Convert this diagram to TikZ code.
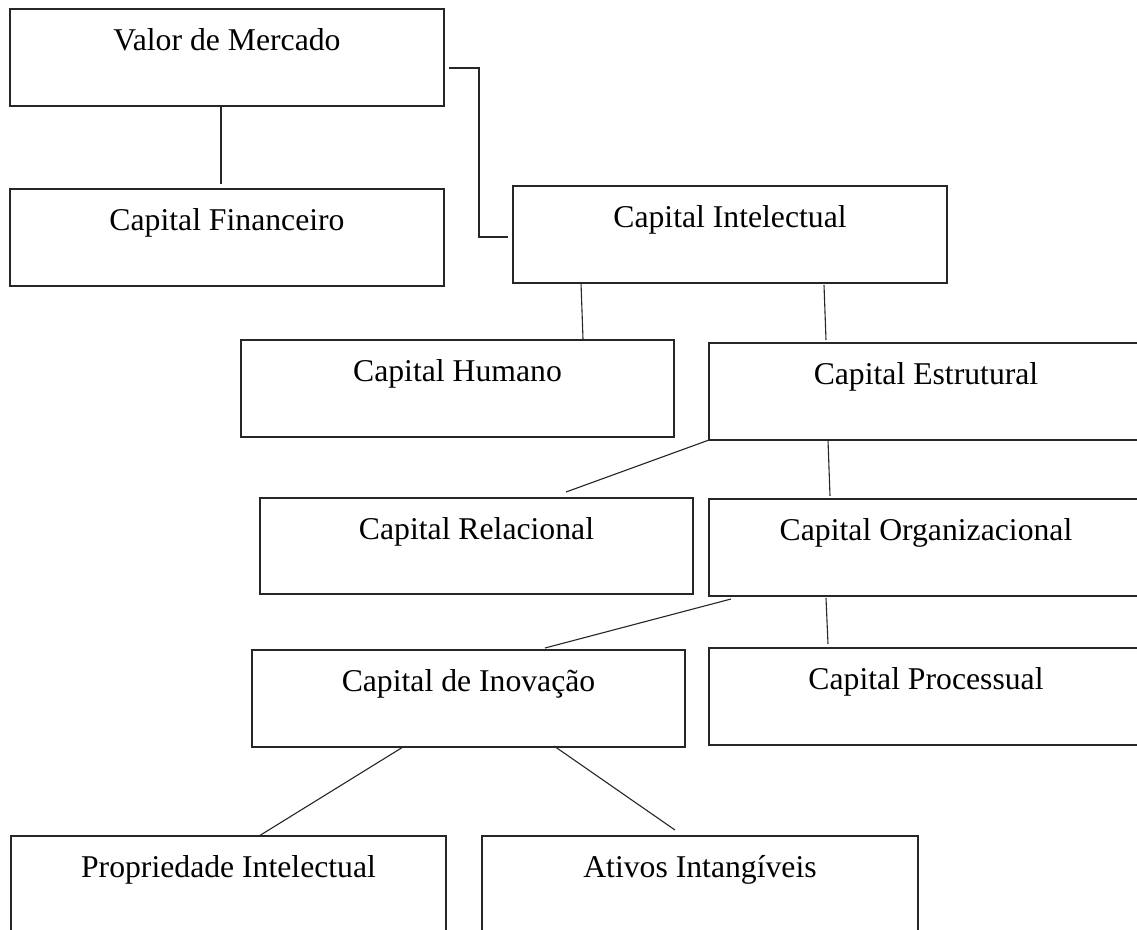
\documentclass[tikz,border=0pt]{standalone}
\usepackage{fontspec}
\setmainfont{Liberation Serif}
\usetikzlibrary{calc}
\begin{document}
\begin{tikzpicture}[x=1pt,y=-1pt,
  box/.style={draw=black!85, line width=1.2pt, minimum width=434pt, minimum height=97pt, anchor=north west, inner sep=0pt, outer sep=0pt},
  lbl/.style={anchor=base, inner sep=0pt, font=\fontsize{31.7}{38}\selectfont},
  link/.style={draw=black!85, line width=1.1pt}]
\useasboundingbox (0,0) rectangle (1137,929);
\fill[white] (0,0) rectangle (1137,929);
\clip (0,0) rectangle (1137,929);

% boxes
\node[box] (valor)  at (10,9)   {};
\node[box] (fin)    at (10,189) {};
\node[box] (intel)  at (513,186) {};
\node[box, minimum width=433pt] (humano) at (241,340) {};
\node[box] (estrut) at (709,343) {};
\node[box, minimum width=433pt, minimum height=96pt] (relac) at (260,498) {};
\node[box] (organ)  at (709,499) {};
\node[box, minimum width=433pt] (inov) at (252,650) {};
\node[box] (proc)   at (709,648) {};
\node[box, minimum width=435pt, minimum height=96pt] (prop) at (11,836) {};
\node[box, minimum width=436pt, minimum height=96pt] (ativos) at (482,836) {};

% labels
\node[lbl] (tvalor)  at ($(valor.north)+(0,41)$)  {Valor de Mercado};
\node[lbl] (tfin)    at ($(fin.north)+(0,41)$)    {Capital Financeiro};
\node[lbl] (tintel)  at ($(intel.north)+(0,41)$)  {Capital Intelectual};
\node[lbl] (thumano) at ($(humano.north)+(0,41)$) {Capital Humano};
\node[lbl] (testrut) at ($(estrut.north)+(0,41)$) {Capital Estrutural};
\node[lbl] (trelac)  at ($(relac.north)+(0,41)$)  {Capital Relacional};
\node[lbl] (torgan)  at ($(organ.north)+(0,41)$)  {Capital Organizacional};
\node[lbl] (tinov)   at ($(inov.north)+(0,41)$)   {Capital de Inovação};
\node[lbl] (tproc)   at ($(proc.north)+(0,41)$)   {Capital Processual};
\node[lbl] (tprop)   at ($(prop.north)+(0,41)$)   {Propriedade Intelectual};
\node[lbl] (tativos) at ($(ativos.north)+(0,41)$) {Ativos Intangíveis};

% connectors
\draw[link] ($(valor.south west)+(211,0)$) -- ($(fin.north west)+(211,-5)$);
\draw[link] ($(valor.north east)+(5,59)$) -- ++(30,0) |- ($(intel.north west)+(-5,51)$);
\draw[link] ($(intel.south west)+(68,0)$) -- ($(humano.north west)+(342,-1)$);
\draw[link] ($(intel.south west)+(311,2)$) -- ($(estrut.north west)+(117,-3)$);
\draw[link] (estrut.south west) -- ($(relac.north west)+(306,-6)$);
\draw[link] ($(estrut.south west)+(119,0)$) -- ($(organ.north west)+(121,-3)$);
\draw[link] ($(organ.south west)+(22,3)$) -- ($(inov.north west)+(293,-2)$);
\draw[link] ($(organ.south west)+(117,2)$) -- ($(proc.north west)+(119,-4)$);
\draw[link] ($(inov.south west)+(151,0)$) -- ($(prop.north west)+(248,0)$);
\draw[link] ($(inov.south west)+(302,-1)$) -- ($(ativos.north west)+(193,-6)$);
\end{tikzpicture}
\end{document}
